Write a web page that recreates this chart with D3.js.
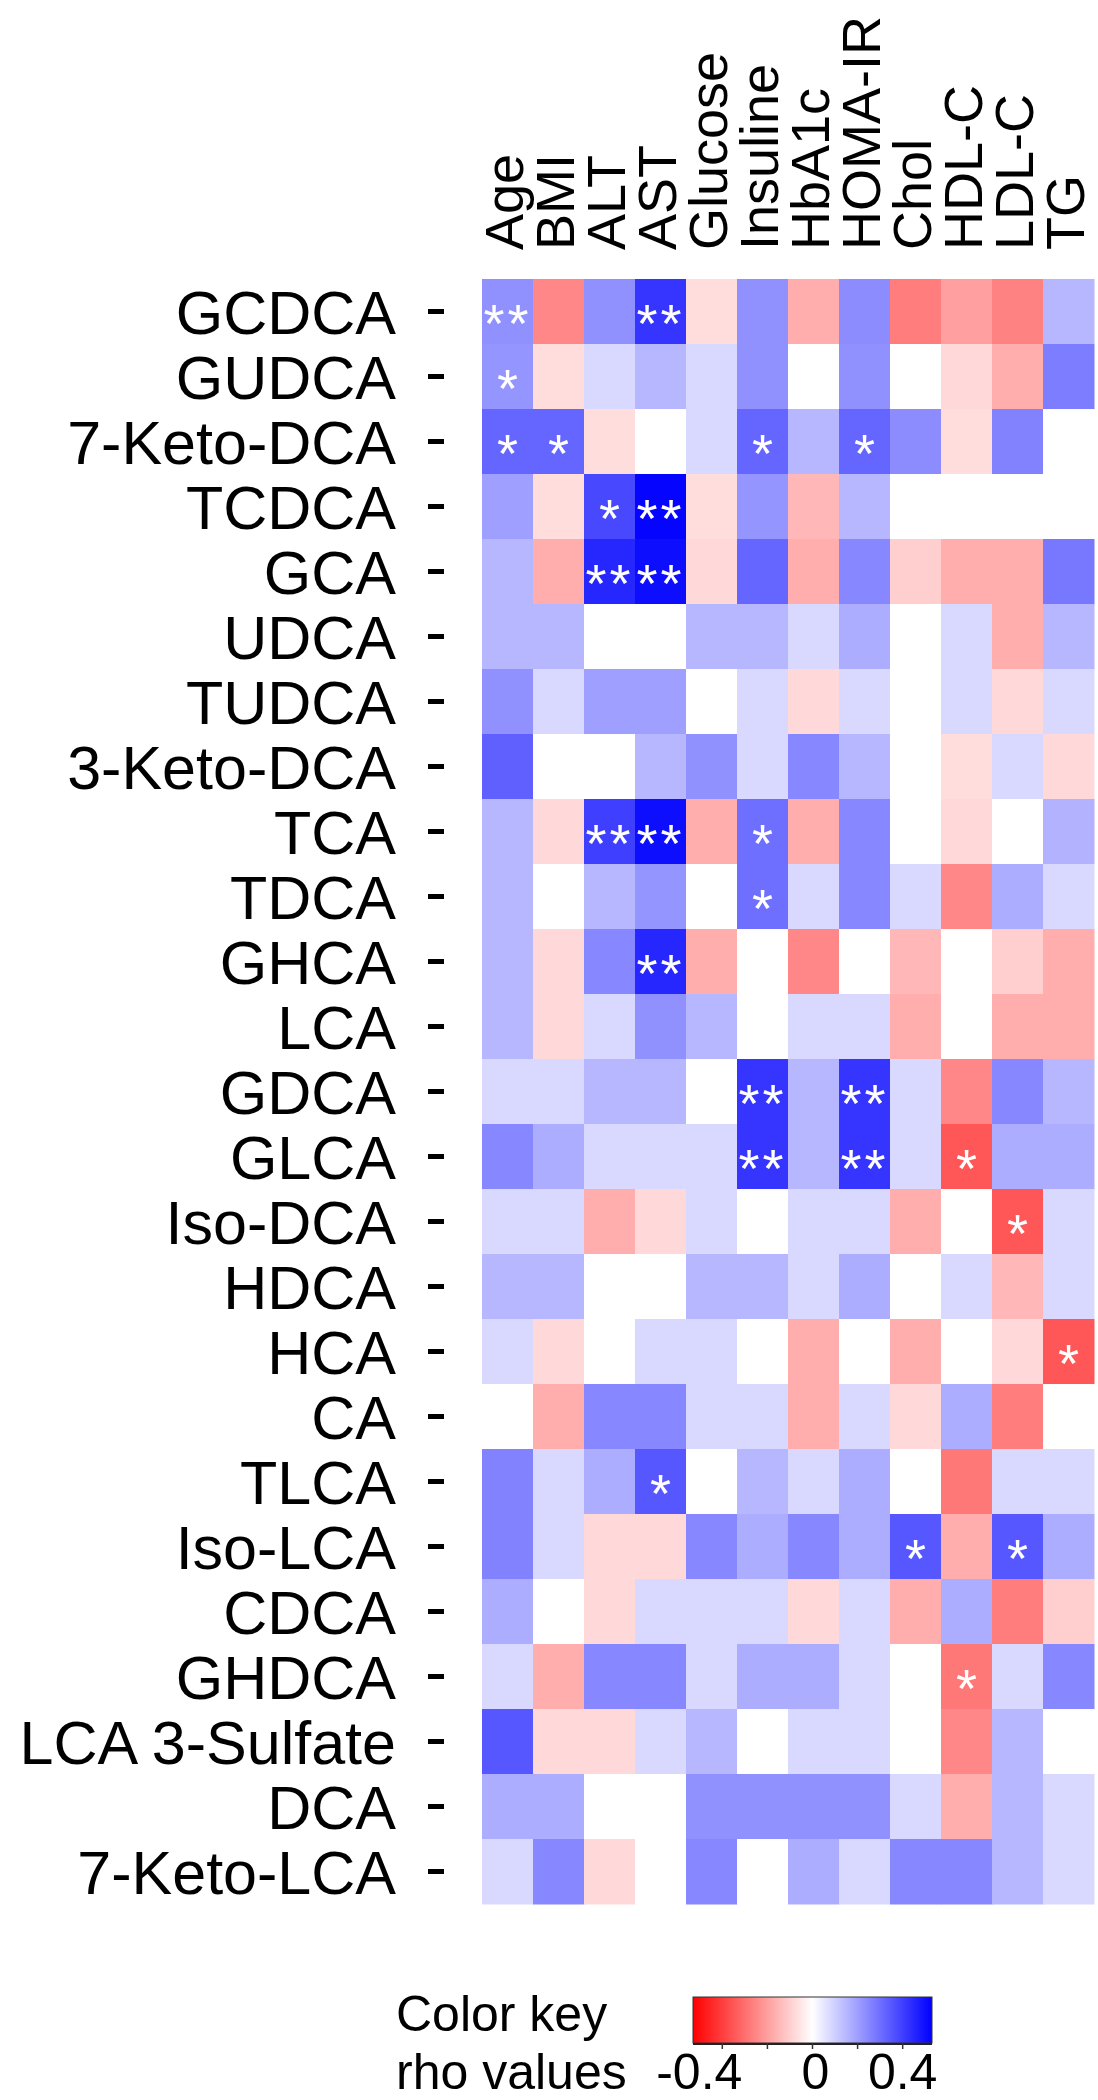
<!DOCTYPE html>
<html>
<head>
<meta charset="utf-8">
<script src="https://cdn.jsdelivr.net/npm/d3@7"></script>
<style>
  body { margin: 0; background: #fff; }
  text { font-family: "Liberation Sans", Arial, sans-serif; }
</style>
</head>
<body>
<script>
var W = 1098, H = 2100;

var acids = ["GCDCA", "GUDCA", "7-Keto-DCA", "TCDCA", "GCA", "UDCA", "TUDCA", "3-Keto-DCA",
             "TCA", "TDCA", "GHCA", "LCA", "GDCA", "GLCA", "Iso-DCA", "HDCA", "HCA", "CA",
             "TLCA", "Iso-LCA", "CDCA", "GHDCA", "LCA 3-Sulfate", "DCA", "7-Keto-LCA"];

var clinical = ["Age", "BMI", "ALT", "AST", "Glucose", "Insuline", "HbA1c", "HOMA-IR",
                "Chol", "HDL-C", "LDL-C", "TG"];

// rho values, one row per bile acid, columns in the order of `clinical`
var rho = [
  [ 0.23, -0.25,  0.23,  0.42, -0.07,  0.23, -0.17,  0.24, -0.27, -0.20, -0.26,  0.15],
  [ 0.22, -0.07,  0.08,  0.15,  0.08,  0.23,  0.00,  0.23,  0.00, -0.08, -0.17,  0.27],
  [ 0.32,  0.32, -0.07,  0.00,  0.08,  0.32,  0.15,  0.32,  0.24, -0.07,  0.26,  0.00],
  [ 0.20, -0.07,  0.38,  0.52, -0.07,  0.22, -0.15,  0.15,  0.00,  0.00,  0.00,  0.00],
  [ 0.15, -0.17,  0.45,  0.50, -0.08,  0.32, -0.17,  0.25, -0.10, -0.17, -0.17,  0.28],
  [ 0.15,  0.15,  0.00,  0.00,  0.15,  0.15,  0.08,  0.17,  0.00,  0.08, -0.17,  0.15],
  [ 0.23,  0.08,  0.20,  0.20,  0.00,  0.08, -0.08,  0.08,  0.00,  0.08, -0.08,  0.08],
  [ 0.33,  0.00,  0.00,  0.15,  0.23,  0.08,  0.25,  0.15,  0.00, -0.07,  0.08, -0.08],
  [ 0.15, -0.08,  0.40,  0.50, -0.17,  0.30, -0.17,  0.25,  0.00, -0.08,  0.00,  0.16],
  [ 0.15,  0.00,  0.15,  0.22,  0.00,  0.30,  0.08,  0.25,  0.08, -0.25,  0.17,  0.08],
  [ 0.15, -0.08,  0.25,  0.45, -0.17,  0.00, -0.25,  0.00, -0.15,  0.00, -0.10, -0.17],
  [ 0.15, -0.08,  0.08,  0.23,  0.15,  0.00,  0.08,  0.08, -0.17,  0.00, -0.17, -0.17],
  [ 0.08,  0.08,  0.15,  0.15,  0.00,  0.42,  0.15,  0.42,  0.08, -0.25,  0.25,  0.15],
  [ 0.25,  0.17,  0.08,  0.08,  0.08,  0.42,  0.15,  0.42,  0.08, -0.35,  0.17,  0.17],
  [ 0.08,  0.08, -0.17, -0.08,  0.08,  0.00,  0.08,  0.08, -0.17,  0.00, -0.35,  0.08],
  [ 0.15,  0.15,  0.00,  0.00,  0.15,  0.15,  0.08,  0.17,  0.00,  0.08, -0.15,  0.08],
  [ 0.08, -0.08,  0.00,  0.08,  0.08,  0.00, -0.17,  0.00, -0.17,  0.00, -0.08, -0.35],
  [ 0.00, -0.17,  0.25,  0.25,  0.08,  0.08, -0.17,  0.08, -0.08,  0.17, -0.27,  0.00],
  [ 0.26,  0.08,  0.17,  0.35,  0.00,  0.15,  0.08,  0.17,  0.00, -0.28,  0.08,  0.08],
  [ 0.26,  0.08, -0.08, -0.08,  0.25,  0.17,  0.25,  0.17,  0.35, -0.17,  0.35,  0.17],
  [ 0.17,  0.00, -0.08,  0.08,  0.08,  0.08, -0.08,  0.08, -0.17,  0.17, -0.27, -0.10],
  [ 0.08, -0.17,  0.25,  0.25,  0.08,  0.17,  0.17,  0.08,  0.00, -0.28,  0.08,  0.25],
  [ 0.35, -0.08, -0.08,  0.08,  0.15,  0.00,  0.08,  0.08,  0.00, -0.25,  0.15,  0.00],
  [ 0.17,  0.17,  0.00,  0.00,  0.23,  0.23,  0.23,  0.23,  0.08, -0.17,  0.15,  0.08],
  [ 0.08,  0.25, -0.08,  0.00,  0.25,  0.00,  0.17,  0.08,  0.25,  0.25,  0.15,  0.08]
];

// significance marks: [bile acid, clinical variable, mark]
var marks = [
  ["GCDCA", "Age", "**"], ["GCDCA", "AST", "**"],
  ["GUDCA", "Age", "*"],
  ["7-Keto-DCA", "Age", "*"], ["7-Keto-DCA", "BMI", "*"], ["7-Keto-DCA", "Insuline", "*"], ["7-Keto-DCA", "HOMA-IR", "*"],
  ["TCDCA", "ALT", "*"], ["TCDCA", "AST", "**"],
  ["GCA", "ALT", "**"], ["GCA", "AST", "**"],
  ["TCA", "ALT", "**"], ["TCA", "AST", "**"], ["TCA", "Insuline", "*"],
  ["TDCA", "Insuline", "*"],
  ["GHCA", "AST", "**"],
  ["GDCA", "Insuline", "**"], ["GDCA", "HOMA-IR", "**"],
  ["GLCA", "Insuline", "**"], ["GLCA", "HOMA-IR", "**"], ["GLCA", "HDL-C", "*"],
  ["Iso-DCA", "LDL-C", "*"],
  ["HCA", "TG", "*"],
  ["TLCA", "AST", "*"],
  ["Iso-LCA", "Chol", "*"], ["Iso-LCA", "LDL-C", "*"],
  ["GHDCA", "HDL-C", "*"]
];

var keyTicks = [-0.4, -0.2, 0, 0.2, 0.4];
var keyLabels = [-0.4, 0, 0.4];
var keyMax = 0.53;

var svg = d3.select("body")
            .append("svg")
            .attr("width", W)
            .attr("height", H);

var x = d3.scaleBand().domain(clinical).range([482, 1094]);
var y = d3.scaleBand().domain(acids).range([279, 1904]);
var color = d3.scaleLinear()
              .domain([-keyMax, 0, keyMax])
              .range(["#ff0000", "#ffffff", "#0000ff"])
              .clamp(true);

// cells
var cells = [];
rho.forEach(function(row, i) {
  row.forEach(function(v, j) {
    cells.push({ acid: acids[i], clin: clinical[j], v: v });
  });
});

svg.selectAll("rect.cell")
   .data(cells)
   .enter()
   .append("rect")
   .attr("class", "cell")
   .attr("x", function(d){ return x(d.clin); })
   .attr("y", function(d){ return y(d.acid); })
   .attr("width", x.bandwidth() + 0.5)
   .attr("height", y.bandwidth() + 0.5)
   .attr("fill", function(d){ return color(d.v); });

// stars
var starSize = 54;
svg.selectAll("text.mark")
   .data(marks)
   .enter()
   .append("text")
   .attr("class", "mark")
   .text(function(d){ return d[2]; })
   .attr("x", function(d){ return x(d[1]) + x.bandwidth() / 2; })
   .attr("y", function(d){ return y(d[0]) + y.bandwidth() / 2 + starSize * 0.56; })
   .attr("text-anchor", "middle")
   .attr("font-size", starSize + "px")
   .attr("letter-spacing", function(d){ return d[2].length > 1 ? "3px" : null; })
   .attr("fill", "white");

// row labels and their dashes
svg.selectAll("text.rowlab")
   .data(acids)
   .enter()
   .append("text")
   .attr("class", "rowlab")
   .text(function(d){ return d; })
   .attr("x", 396)
   .attr("y", function(d){ return y(d) + y.bandwidth() / 2 + 22; })
   .attr("text-anchor", "end")
   .attr("font-size", "61px")
   .attr("fill", "black");

svg.selectAll("line.rowtick")
   .data(acids)
   .enter()
   .append("line")
   .attr("class", "rowtick")
   .attr("x1", 428)
   .attr("x2", 444)
   .attr("y1", function(d){ return y(d) + y.bandwidth() / 2; })
   .attr("y2", function(d){ return y(d) + y.bandwidth() / 2; })
   .attr("stroke", "black")
   .attr("stroke-width", 5);

// column labels, rotated
svg.selectAll("text.collab")
   .data(clinical)
   .enter()
   .append("text")
   .attr("class", "collab")
   .text(function(d){ return d; })
   .attr("transform", function(d){
     return "translate(" + (x(d) + x.bandwidth() / 2 + 15) + ",250) rotate(-90)";
   })
   .attr("text-anchor", "start")
   .attr("font-size", "54px")
   .attr("fill", "black");

// colour key
var kx = d3.scaleLinear().domain([-keyMax, keyMax]).range([693, 932]);
var defs = svg.append("defs");
var grad = defs.append("linearGradient").attr("id", "keygrad");
d3.range(0, 1.0001, 0.1).forEach(function(t) {
  grad.append("stop")
      .attr("offset", (t * 100) + "%")
      .attr("stop-color", color(-keyMax + t * 2 * keyMax));
});

svg.append("rect")
   .attr("x", kx(-keyMax))
   .attr("y", 1997)
   .attr("width", kx(keyMax) - kx(-keyMax))
   .attr("height", 46)
   .attr("fill", "url(#keygrad)")
   .attr("stroke", "#333")
   .attr("stroke-width", 1);

svg.append("line")
   .attr("x1", kx(-keyMax)).attr("x2", kx(keyMax))
   .attr("y1", 2044).attr("y2", 2044)
   .attr("stroke", "#222").attr("stroke-width", 2);

svg.selectAll("line.keytick")
   .data(keyTicks)
   .enter()
   .append("line")
   .attr("class", "keytick")
   .attr("x1", function(d){ return kx(d); })
   .attr("x2", function(d){ return kx(d); })
   .attr("y1", 2043).attr("y2", 2049)
   .attr("stroke", "#333").attr("stroke-width", 1.5);

svg.selectAll("text.keylab")
   .data(keyLabels)
   .enter()
   .append("text")
   .attr("class", "keylab")
   .text(function(d){ return d === 0 ? "0" : String(d); })
   .attr("x", function(d){ return kx(d) + (d < 0 ? -23 : 0) + (d === 0 ? 3 : 0); })
   .attr("y", 2089)
   .attr("text-anchor", "middle")
   .attr("font-size", "50px")
   .attr("fill", "black");

svg.append("text")
   .text("Color key")
   .attr("x", 396).attr("y", 2031)
   .attr("font-size", "50px").attr("fill", "black");

svg.append("text")
   .text("rho values")
   .attr("x", 396).attr("y", 2089)
   .attr("font-size", "50px").attr("fill", "black");
</script>
</body>
</html>
